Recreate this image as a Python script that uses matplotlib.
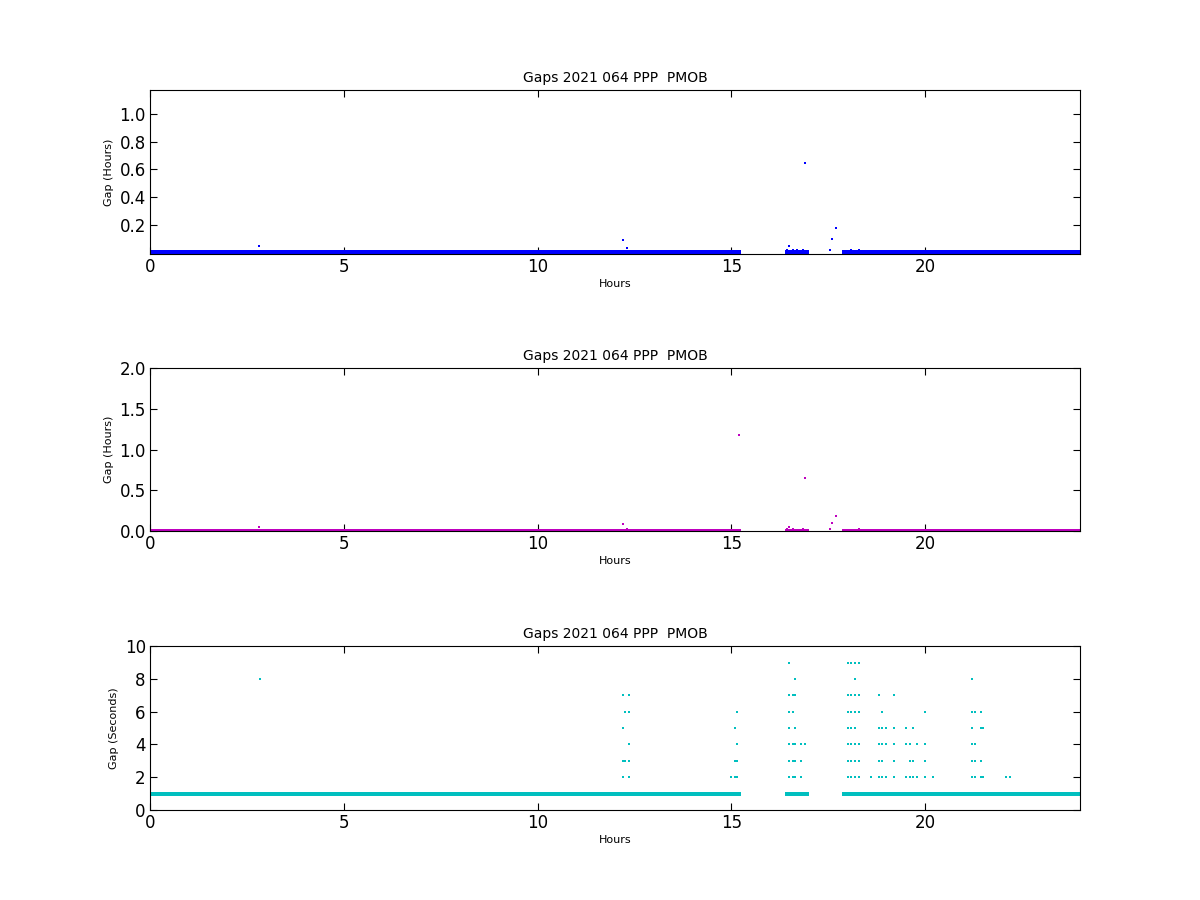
import numpy as np
import matplotlib
matplotlib.use("Agg")
import matplotlib.pyplot as plt

title = "Gaps 2021 064 PPP  PMOB"
# observed spans (hours) where epochs arrive every 1 second
spans = [(0.0, 15.2), (16.45, 16.95), (17.9, 24.0)]
base_gap_s = 1.0
# larger gaps: (hour, gap seconds)
big_hours = [2.8, 12.2, 12.3, 15.2, 16.45, 16.5, 16.55, 16.6, 16.7, 16.85, 16.9, 17.55, 17.6, 17.7, 18.0, 18.1, 18.3, 19.35]
big_gaps_s = [180, 324, 108, 4248, 72, 180, 36, 72, 54, 72, 2340, 72, 360, 648, 36, 54, 72, 36]
short_hours = [2.85,
               12.2, 12.2, 12.2, 12.2, 12.25, 12.25, 12.35, 12.35, 12.35, 12.35, 12.35,
               15.0, 15.1, 15.1, 15.1, 15.15, 15.15, 15.15, 15.15,
               16.5, 16.5, 16.5, 16.5, 16.5, 16.5, 16.5, 16.6, 16.6, 16.6, 16.6, 16.6,
               16.65, 16.65, 16.65, 16.65, 16.65, 16.65, 16.8, 16.8, 16.8, 16.9,
               18.0, 18.0, 18.0, 18.0, 18.0, 18.0, 18.0, 18.1, 18.1, 18.1, 18.1, 18.1, 18.1, 18.1,
               18.2, 18.2, 18.2, 18.2, 18.2, 18.2, 18.2, 18.2, 18.3, 18.3, 18.3, 18.3, 18.3, 18.3,
               18.6, 18.8, 18.8, 18.8, 18.8, 18.8, 18.9, 18.9, 18.9, 18.9, 18.9, 19.0, 19.0, 19.0,
               19.2, 19.2, 19.2, 19.2, 19.2, 19.5, 19.5, 19.5, 19.6, 19.6, 19.6, 19.7, 19.7, 19.7,
               19.8, 19.8, 20.0, 20.0, 20.0, 20.0, 20.2,
               21.2, 21.2, 21.2, 21.2, 21.2, 21.2, 21.3, 21.3, 21.3, 21.3, 21.45, 21.45, 21.45, 21.45,
               21.5, 21.5, 22.1, 22.2]
short_gaps_s = [8,
                7, 5, 3, 2, 6, 3, 7, 6, 4, 3, 2,
                2, 5, 3, 2, 6, 4, 3, 2,
                9, 7, 6, 5, 4, 3, 2, 7, 6, 4, 3, 2,
                8, 7, 5, 4, 3, 2, 4, 3, 2, 4,
                9, 7, 6, 5, 4, 3, 2, 9, 7, 6, 5, 4, 3, 2,
                9, 8, 7, 6, 5, 4, 3, 2, 9, 7, 6, 4, 3, 2,
                2, 7, 5, 4, 3, 2, 6, 5, 4, 3, 2, 5, 4, 2,
                7, 5, 4, 3, 2, 5, 4, 2, 4, 3, 2, 5, 3, 2,
                4, 2, 6, 4, 3, 2, 2,
                8, 6, 5, 4, 3, 2, 6, 4, 3, 2, 6, 5, 3, 2,
                5, 2, 2, 2]

base_t = np.concatenate([np.arange(a, b, 20.0 / 3600) for a, b in spans])
base_g = np.full(base_t.size, base_gap_s)

fig = plt.figure(figsize=(12, 9), dpi=100)
rects = [[0.125, 0.718, 0.775, 0.182], [0.125, 0.41, 0.775, 0.181], [0.125, 0.1, 0.775, 0.182]]
kw = dict(marker='s', ms=1.6, mew=0, ls='none')
bkw = dict(marker='s', ms=3.2, mew=0, ls='none')

ax1 = fig.add_axes(rects[0])
ax1.plot(base_t, base_g / 3600, color='b', **bkw)
ax1.plot(big_hours[:3] + big_hours[4:], np.array(big_gaps_s[:3] + big_gaps_s[4:]) / 3600, color='b', **kw)
ax1.set_ylim(-0.01, 1.175)
ax1.set_yticks([0.2, 0.4, 0.6, 0.8, 1.0])
ax1.set_ylabel("Gap (Hours)", fontsize=8)

ax2 = fig.add_axes(rects[1])
ax2.plot(base_t, base_g / 3600, color='m', **bkw)
ax2.plot(big_hours, np.array(big_gaps_s) / 3600, color='m', **kw)
ax2.set_ylim(0, 2)
ax2.set_yticks([0, 0.5, 1.0, 1.5, 2.0])
ax2.set_ylabel("Gap (Hours)", fontsize=8)

ax3 = fig.add_axes(rects[2])
ax3.plot(base_t, base_g, color='#00BFBF', **bkw)
ax3.plot(short_hours, short_gaps_s, color='#00BFBF', **kw)
ax3.set_ylim(0, 10)
ax3.set_yticks([0, 2, 4, 6, 8, 10])
ax3.set_ylabel("Gap (Seconds)", fontsize=8)

for ax in (ax1, ax2, ax3):
    ax.set_xlim(0, 24)
    ax.set_xticks([0, 5, 10, 15, 20])
    ax.set_title(title, fontsize=10)
    ax.set_xlabel("Hours", fontsize=8, labelpad=2)
    ax.tick_params(labelsize=12, direction='in', top=True, right=True, length=5, pad=3)

fig.savefig("out.png")
